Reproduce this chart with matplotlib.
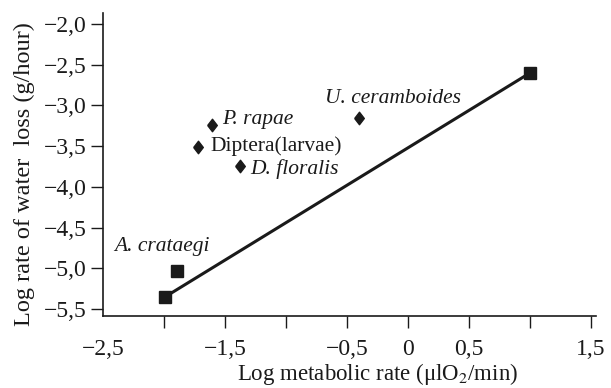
import numpy as np
import matplotlib.pyplot as plt

# squares + fitted line
sq_x = [-1.99, -1.89, 1.0]
sq_y = [-5.35, -5.03, -2.6]
line_x = [-1.99, 1.0]
line_y = [-5.35, -2.6]

# diamonds
dia_x = [-1.61, -1.72, -1.38, -0.40]
dia_y = [-3.24, -3.51, -3.75, -3.16]

labels = ["P. rapae", "Diptera(larvae)", "D. floralis", "U. ceramboides", "A. crataegi"]
label_x = [-1.52, -1.62, -1.29, -0.68, -2.41]
label_y = [-3.17, -3.5, -3.78, -2.92, -4.73]
label_style = ["italic", "normal", "italic", "italic", "italic"]

xticks = [-2.5, -2.0, -1.5, -1.0, -0.5, 0, 0.5, 1.0, 1.5]
xticklabels = ["−2,5", "", "−1,5", "", "−0,5", "0", "0,5", "", "1,5"]
yticks = [-2.0, -2.5, -3.0, -3.5, -4.0, -4.5, -5.0, -5.5]
yticklabels = ["−2,0", "−2,5", "−3,0", "−3,5", "−4,0", "−4,5", "−5,0", "−5,5"]

plt.rcParams['font.family'] = ['Liberation Serif', 'DejaVu Serif']
plt.rcParams['mathtext.fontset'] = 'stix'

fig = plt.figure(figsize=(6.11, 3.88), dpi=100)
ax = fig.add_axes([0.1686, 0.1856, 0.8069, 0.7809])

c = "#1a1a1a"
diamond = [(-0.77, 0), (0, 1), (0.77, 0), (0, -1), (-0.77, 0)]
ax.plot(line_x, line_y, color=c, lw=2.2, zorder=2)
ax.plot(sq_x, sq_y, "s", color=c, ms=8, zorder=3)
ax.plot(dia_x, dia_y, marker=diamond, ls="none", color=c, ms=9, zorder=3)

for t, x, y, st in zip(labels, label_x, label_y, label_style):
    ax.text(x, y, t, style=st, fontsize=15.5, va="center", ha="left", color=c)

ax.set_xlim(-2.5, 1.54)
ax.set_ylim(-5.586, -1.865)
ax.set_xticks(xticks)
ax.set_xticklabels(xticklabels)
ax.set_yticks(yticks)
ax.set_yticklabels(yticklabels)
ax.xaxis.get_major_ticks()[0].tick1line.set_visible(False)

ax.spines["top"].set_visible(False)
ax.spines["right"].set_visible(False)
for s in ["left", "bottom"]:
    ax.spines[s].set_linewidth(1.2)
    ax.spines[s].set_color(c)
ax.tick_params(direction="out", length=8.5, width=1, colors=c, labelsize=17)
ax.tick_params(axis="x", pad=8)
ax.tick_params(axis="y", pad=3.5)

ax.set_xlabel("Log metabolic rate (μlO$_2$/min)", fontsize=16.5, color=c)
ax.set_ylabel("Log rate of water  loss (g/hour)", fontsize=17.5, color=c)
ax.xaxis.set_label_coords(0.556, -0.15)
ax.yaxis.set_label_coords(-0.138, 0.469)

fig.savefig("out.png", dpi=100)
